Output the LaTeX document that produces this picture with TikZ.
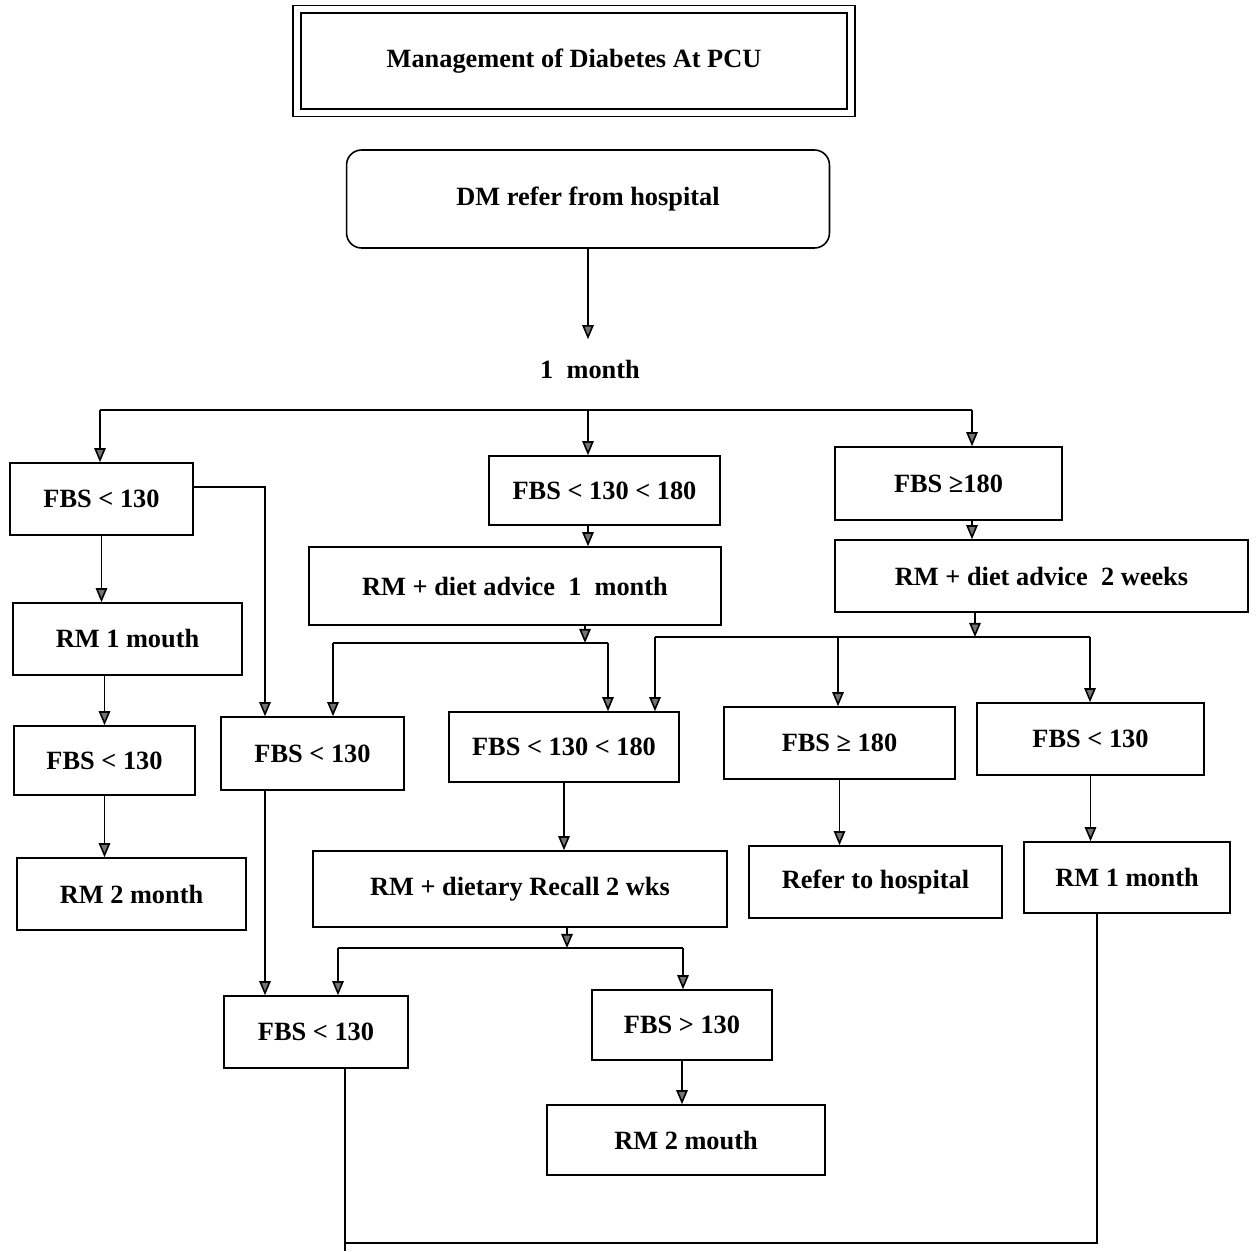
\documentclass[tikz,border=0pt]{standalone}
\usepackage{fontspec}
\setmainfont{Liberation Serif}
\usetikzlibrary{arrows.meta}

\tikzset{
  box/.style 2 args={draw, minimum width=#1, minimum height=#2, inner sep=0pt},
  arr/.style={-{Triangle[length=8pt,width=6.5pt,fill=black!55]}}
}

\begin{document}
\begin{tikzpicture}[x=0.02cm,y=-0.02cm,line width=0.9pt,
    every node/.style={font=\fontsize{15}{18}\selectfont\bfseries}]

        \useasboundingbox (0,0) rectangle (1256,1251);

        % title and start
        \node[box={11.08cm}{2.07cm}, double, double distance=3.5pt] (1) at (574,61) {Management of Diabetes At PCU};
        \node[box={9.66cm}{1.96cm}, rounded corners=0.3cm] (2) at (588,199) {DM refer from hospital};
        \node[minimum height=1.16cm] (3) at (590,369) {1\ \ month};

        \begin{scope}[every node/.append style={draw, inner sep=0pt}]
          \node[box={3.66cm}{1.44cm}] (4)  at (101.5,499)  {FBS < 130};
          \node[box={4.62cm}{1.38cm}] (5)  at (604.5,490.5) {FBS < 130 < 180};
          \node[box={4.54cm}{1.46cm}] (6)  at (948.5,483.5) {FBS ≥180};
          \node[box={8.24cm}{1.56cm}] (7)  at (515,586)    {RM + diet advice\ \ 1\ \ month};
          \node[box={8.26cm}{1.44cm}] (8)  at (1041.5,576) {RM + diet advice\ \ 2 weeks};
          \node[box={4.58cm}{1.44cm}] (9)  at (127.5,639)  {RM 1 mouth};
          \node[box={3.62cm}{1.38cm}] (10) at (104.5,760.5) {FBS < 130};
          \node[box={4.58cm}{1.44cm}] (11) at (131.5,894)  {RM 2 month};
          \node[box={3.66cm}{1.46cm}] (12) at (312.5,753.5) {FBS < 130};
          \node[box={4.60cm}{1.40cm}] (13) at (564,747)    {FBS < 130 < 180};
          \node[box={4.62cm}{1.44cm}] (14) at (839.5,743)  {FBS ≥ 180};
          \node[box={4.54cm}{1.44cm}] (15) at (1090.5,739) {FBS < 130};
          \node[box={8.28cm}{1.52cm}] (16) at (520,889)    {RM + dietary Recall 2 wks};
          \node[box={5.06cm}{1.44cm}] (17) at (875.5,882)  {Refer to hospital};
          \node[box={4.12cm}{1.42cm}] (18) at (1127,877.5) {RM 1 month};
          \node[box={3.68cm}{1.44cm}] (19) at (316,1032)   {FBS < 130};
          \node[box={3.60cm}{1.40cm}] (20) at (682,1025)   {FBS > 130};
          \node[box={5.56cm}{1.40cm}] (21) at (686,1140)   {RM 2 mouth};
        \end{scope}

        % branch points
        \coordinate (t1) at (100,410);
        \coordinate (t0) at (588,410);
        \coordinate (t2) at (972,410);
        \coordinate (w)  at (265,487);
        \coordinate (u0) at (585,643);
        \coordinate (u1) at (333,643);
        \coordinate (u2) at (608,643);
        \coordinate (v0) at (975,637);
        \coordinate (v1) at (655,637);
        \coordinate (v2) at (838,637);
        \coordinate (v3) at (1090,637);
        \coordinate (x0) at (567,948);
        \coordinate (x1) at (338,948);
        \coordinate (x2) at (683,948);
        \coordinate (y0) at (345,1251);
        \coordinate (y1) at (345,1243);
        \coordinate (y2) at (1097,1243);

        \draw[arr] (2.south) -- (2.south |- 3.north);

        \draw (t1) -- (t2);
        \draw[arr] (t1) -- (t1 |- 4.north);
        \draw[arr] (t0) -- (t0 |- 5.north);
        \draw[arr] (t2) -- (t2 |- 6.north);

        \draw[arr] (5.south -| t0) -- (7.north -| t0);
        \draw[arr] (6.south -| t2) -- (8.north -| t2);

        \draw[arr] (4.south) -- (4.south |- 9.north);
        \draw[arr] (10.north |- 9.south) -- (10.north);
        \draw[arr] (10.south) -- (10.south |- 11.north);
        \draw[arr] (4.east |- w) -| (w |- 12.north);

        \draw[arr] (7.south -| u0) -- (u0);
        \draw (u1) -- (u2);
        \draw[arr] (u1) -- (u1 |- 12.north);
        \draw[arr] (u2) -- (u2 |- 13.north);

        \draw[arr] (8.south -| v0) -- (v0);
        \draw (v1) -- (v3);
        \draw[arr] (v1) -- (v1 |- 13.north);
        \draw[arr] (v2) -- (v2 |- 14.north);
        \draw[arr] (v3) -- (v3 |- 15.north);

        \draw[arr] (13.south) -- (13.south |- 16.north);
        \draw[arr] (14.south) -- (14.south |- 17.north);
        \draw[arr] (15.south) -- (15.south |- 18.north);

        \draw[arr] (16.south -| x0) -- (x0);
        \draw (x1) -- (x2);
        \draw[arr] (x1) -- (x1 |- 19.north);
        \draw[arr] (x2) -- (x2 |- 20.north);
        \draw[arr] (12.south -| w) -- (w |- 19.north);
        \draw[arr] (20.south) -- (20.south |- 21.north);

        % loop back at the bottom
        \draw (19.south -| y1) -- (y0);
        \draw (18.south -| y2) -- (y2) -- (y1);

      \end{tikzpicture}
\end{document}
